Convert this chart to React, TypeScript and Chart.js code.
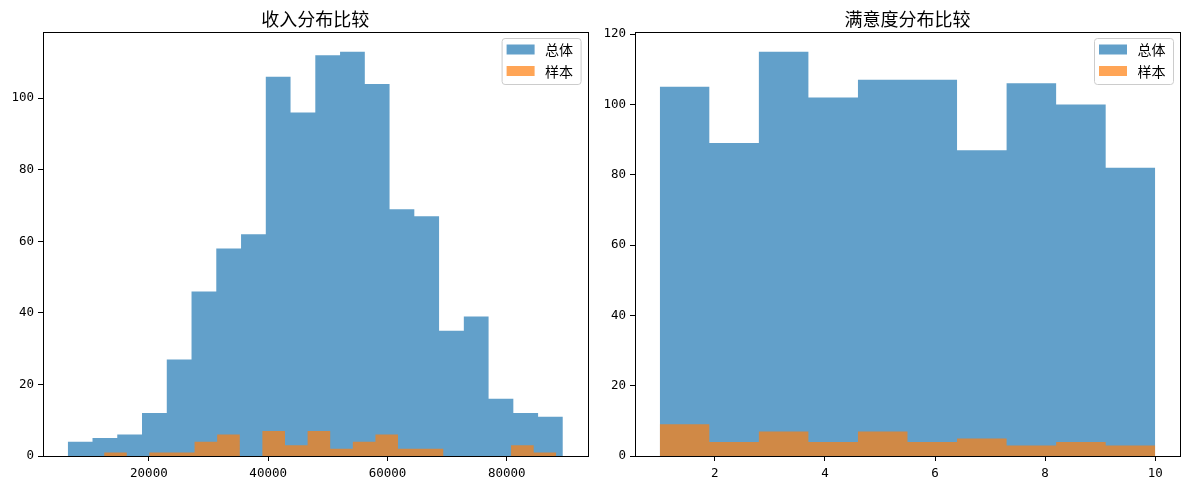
import React, { useEffect, useRef } from "react";
import { Chart, registerables } from "chart.js";

Chart.register(...registerables);

// ---------- data ----------
const titles = ["收入分布比较", "满意度分布比较"];
const legendLabels = ["总体", "样本"];

const incomeEdgesAll = [
  6400, 10550, 14700, 18850, 23000, 27150, 31300, 35450, 39600, 43750, 47900,
  52050, 56200, 60350, 64500, 68650, 72800, 76950, 81100, 85250, 89400,
];
const incomeCountsAll = [
  4, 5, 6, 12, 27, 46, 58, 62, 106, 96, 112, 113, 104, 69, 67, 35, 39, 16, 12, 11,
];
const incomeEdgesSample = [
  12500, 16290, 20080, 23870, 27660, 31450, 35240, 39030, 42820, 46610, 50400,
  54190, 57980, 61770, 65560, 69350, 73140, 76930, 80720, 84510, 88300,
];
const incomeCountsSample = [
  1, 0, 1, 1, 4, 6, 0, 7, 3, 7, 2, 4, 6, 2, 2, 0, 0, 0, 3, 1,
];

const satEdges = [1, 1.9, 2.8, 3.7, 4.6, 5.5, 6.4, 7.3, 8.2, 9.1, 10];
const satCountsAll = [105, 89, 115, 102, 107, 107, 87, 106, 100, 82];
const satCountsSample = [9, 4, 7, 4, 7, 4, 5, 3, 4, 3];

const incomeXRange = [2250, 93550];
const incomeYRange = [0, 118.65];
const satXRange = [0.55, 10.45];
const satYRange = [0, 120.75];

const incomeXTicks = [20000, 40000, 60000, 80000];
const incomeYTicks = [0, 20, 40, 60, 80, 100];
const satXTicks = [2, 4, 6, 8, 10];
const satYTicks = [0, 20, 40, 60, 80, 100, 120];

// ---------- styles ----------
const BLUE = "rgba(31,119,180,0.7)";
const ORANGE = "rgba(255,127,14,0.7)";
const CJK = "'Noto Sans CJK SC', 'Noto Sans', sans-serif";
const MONO = "'DejaVu Sans Mono', monospace";

function toSteps(edges: number[], counts: number[]) {
  return edges.map((x, i) => ({ x, y: counts[Math.min(i, counts.length - 1)] }));
}

const frameLegendPlugin = {
  id: "frameLegend",
  afterDraw(chart: any) {
    const { ctx, chartArea: a } = chart;
    ctx.save();
    // spines
    ctx.strokeStyle = "#000";
    ctx.lineWidth = 1;
    ctx.strokeRect(
      Math.round(a.left) + 0.5,
      Math.round(a.top) + 0.5,
      Math.round(a.right) - Math.round(a.left),
      Math.round(a.bottom) - Math.round(a.top)
    );
    // legend
    const w = 79;
    const h = 46;
    const x0 = a.right - 6.5 - w;
    const y0 = a.top + 7;
    ctx.beginPath();
    const r = 3;
    ctx.moveTo(x0 + r, y0);
    ctx.lineTo(x0 + w - r, y0);
    ctx.quadraticCurveTo(x0 + w, y0, x0 + w, y0 + r);
    ctx.lineTo(x0 + w, y0 + h - r);
    ctx.quadraticCurveTo(x0 + w, y0 + h, x0 + w - r, y0 + h);
    ctx.lineTo(x0 + r, y0 + h);
    ctx.quadraticCurveTo(x0, y0 + h, x0, y0 + h - r);
    ctx.lineTo(x0, y0 + r);
    ctx.quadraticCurveTo(x0, y0, x0 + r, y0);
    ctx.closePath();
    ctx.fillStyle = "rgba(255,255,255,0.8)";
    ctx.fill();
    ctx.strokeStyle = "#cccccc";
    ctx.stroke();
    ctx.font = `14px ${CJK}`;
    ctx.textBaseline = "middle";
    ctx.textAlign = "left";
    chart.data.datasets.forEach((ds: any, i: number) => {
      const cy = y0 + 11 + i * 21.5;
      ctx.fillStyle = ds.backgroundColor;
      ctx.fillRect(x0 + 4.5, cy - 5, 28, 10);
      ctx.fillStyle = "#000";
      ctx.fillText(ds.label, x0 + 43, cy + 0.5);
    });
    ctx.restore();
  },
};

type Panel = {
  title: string;
  edgesA: number[];
  countsA: number[];
  edgesB: number[];
  countsB: number[];
  xRange: number[];
  yRange: number[];
  xTicks: number[];
  yTicks: number[];
  yWidth: number;
  padRight: number;
};

function makeConfig(p: Panel): any {
  const tickFont = { family: MONO, size: 12.5 };
  const grid = {
    drawOnChartArea: false,
    drawTicks: true,
    tickLength: 5,
    color: "#000",
    lineWidth: 1,
  };
  return {
    type: "line",
    data: {
      datasets: [
        {
          label: legendLabels[0],
          data: toSteps(p.edgesA, p.countsA),
          stepped: true,
          fill: "origin",
          backgroundColor: BLUE,
          borderColor: "transparent",
          borderWidth: 0,
          pointRadius: 0,
          order: 2,
        },
        {
          label: legendLabels[1],
          data: toSteps(p.edgesB, p.countsB),
          stepped: true,
          fill: "origin",
          backgroundColor: ORANGE,
          borderColor: "transparent",
          borderWidth: 0,
          pointRadius: 0,
          order: 1,
        },
      ],
    },
    options: {
      responsive: false,
      animation: false,
      events: [],
      layout: { padding: { left: 0, right: p.padRight, top: 0, bottom: 0 } },
      plugins: {
        legend: { display: false },
        tooltip: { enabled: false },
        title: {
          display: true,
          fullSize: false,
          text: p.title,
          color: "#000",
          font: { family: CJK, size: 18, weight: "normal", lineHeight: 1.2 },
          padding: { top: 8, bottom: 1.9 },
        },
      },
      scales: {
        x: {
          type: "linear",
          min: p.xRange[0],
          max: p.xRange[1],
          afterBuildTicks: (s: any) => {
            s.ticks = p.xTicks.map((v) => ({ value: v }));
          },
          afterFit: (s: any) => {
            s.height = 33;
          },
          ticks: {
            autoSkip: false,
            maxRotation: 0,
            color: "#000",
            font: tickFont,
            padding: 5.5,
            callback: (v: any) => String(v),
          },
          grid,
          border: { display: false },
        },
        y: {
          type: "linear",
          min: p.yRange[0],
          max: p.yRange[1],
          afterBuildTicks: (s: any) => {
            s.ticks = p.yTicks.map((v) => ({ value: v }));
          },
          afterFit: (s: any) => {
            s.width = p.yWidth;
          },
          ticks: {
            autoSkip: false,
            color: "#000",
            font: tickFont,
            padding: 4,
            callback: (v: any) => String(v),
          },
          grid,
          border: { display: false },
        },
      },
    },
    plugins: [frameLegendPlugin],
  };
}

export default function App() {
  const leftRef = useRef<HTMLCanvasElement | null>(null);
  const rightRef = useRef<HTMLCanvasElement | null>(null);

  useEffect(() => {
    const charts: Chart[] = [];
    if (leftRef.current) {
      charts.push(
        new Chart(
          leftRef.current,
          makeConfig({
            title: titles[0],
            edgesA: incomeEdgesAll,
            countsA: incomeCountsAll,
            edgesB: incomeEdgesSample,
            countsB: incomeCountsSample,
            xRange: incomeXRange,
            yRange: incomeYRange,
            xTicks: incomeXTicks,
            yTicks: incomeYTicks,
            yWidth: 43,
            padRight: 12.4,
          })
        )
      );
    }
    if (rightRef.current) {
      charts.push(
        new Chart(
          rightRef.current,
          makeConfig({
            title: titles[1],
            edgesA: satEdges,
            countsA: satCountsAll,
            edgesB: satEdges,
            countsB: satCountsSample,
            xRange: satXRange,
            yRange: satYRange,
            xTicks: satXTicks,
            yTicks: satYTicks,
            yWidth: 35,
            padRight: 9,
          })
        )
      );
    }
    return () => charts.forEach((c) => c.destroy());
  }, []);

  return (
    <div
      style={{
        position: "fixed",
        left: 0,
        top: 0,
        width: 1189,
        height: 489,
        background: "#fff",
        overflow: "hidden",
      }}
    >
      <canvas
        ref={leftRef}
        width={600}
        height={489}
        style={{ position: "absolute", left: 0, top: 0, width: 600, height: 489 }}
      />
      <canvas
        ref={rightRef}
        width={589}
        height={489}
        style={{ position: "absolute", left: 600, top: 0, width: 589, height: 489 }}
      />
    </div>
  );
}
